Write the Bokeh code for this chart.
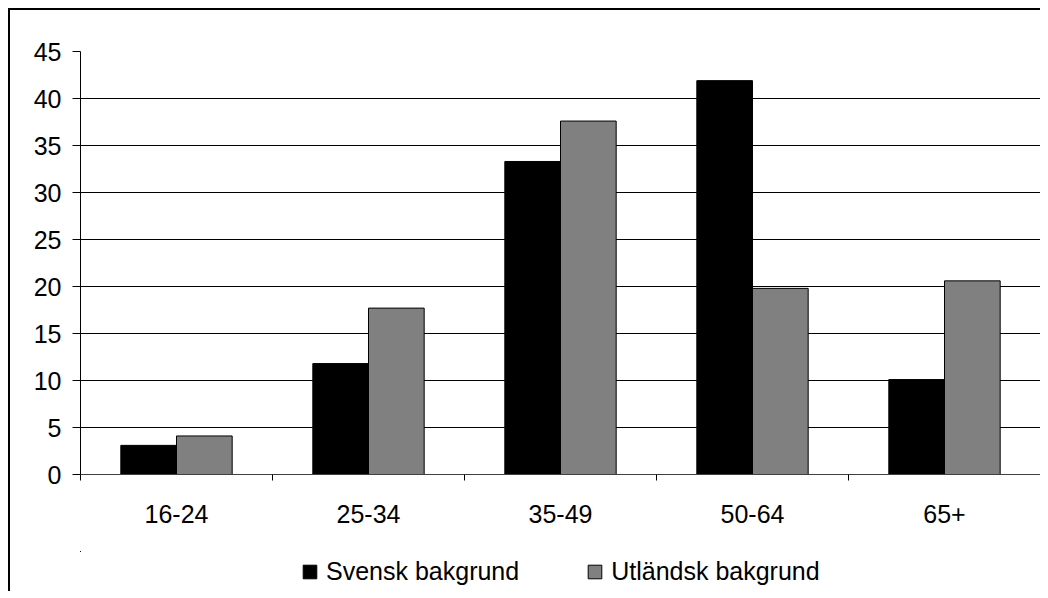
import numpy as np
from bokeh.plotting import figure
from bokeh.layouts import column
from bokeh.models import ColumnDataSource, Range1d, FixedTicker, Legend, LegendItem
from bokeh.embed import file_html
from bokeh.resources import INLINE

categories = ["16-24", "25-34", "35-49", "50-64", "65+"]
svensk = [3.1, 11.8, 33.3, 41.9, 10.1]
utlandsk = [4.1, 17.7, 37.6, 19.8, 20.6]
series_names = ["Svensk bakgrund", "Utländsk bakgrund"]
series_colors = ["black", "#808080"]
y_ticks = [0, 5, 10, 15, 20, 25, 30, 35, 40, 45]

FONT = "Liberation Sans"
FS = "25px"
W = 1030

centers = np.arange(len(categories)) + 0.5
bw = 0.29
src = ColumnDataSource(dict(
    x1=centers - bw / 2, x2=centers + bw / 2, s=svensk, u=utlandsk,
))

p = figure(width=W, height=541, output_backend="svg", toolbar_location=None,
           x_range=Range1d(0, len(categories)), y_range=Range1d(0, 45),
           min_border_left=70, min_border_top=41, min_border_right=0,
           min_border_bottom=77)
p.outline_line_color = None
p.background_fill_color = "white"
p.border_fill_color = "white"

p.vbar(x="x1", top="s", width=bw, bottom=0, source=src,
       fill_color=series_colors[0], line_color="black", line_width=1)
p.vbar(x="x2", top="u", width=bw, bottom=0, source=src,
       fill_color=series_colors[1], line_color="black", line_width=1)

# grid
p.xgrid.grid_line_color = None
p.ygrid.grid_line_color = "black"
p.ygrid.grid_line_width = 1
p.ygrid.ticker = FixedTicker(ticks=y_ticks)

# y axis
ya = p.yaxis[0]
ya.ticker = FixedTicker(ticks=y_ticks)
ya.axis_line_color = "black"
ya.major_tick_line_color = "black"
ya.major_tick_out = 8
ya.major_tick_in = 0
ya.minor_tick_line_color = None
ya.major_label_standoff = 11
ya.major_label_text_font = FONT
ya.major_label_text_font_size = FS
ya.major_label_text_color = "black"

# x axis: labels at centers, tick marks at boundaries
xa = p.xaxis[0]
xa.ticker = FixedTicker(ticks=list(centers),
                        minor_ticks=list(range(len(categories) + 1)))
xa.major_label_overrides = {float(c): lab for c, lab in zip(centers, categories)}
xa.axis_line_color = "#404040"
xa.major_tick_line_color = None
xa.major_tick_out = 0
xa.major_tick_in = 0
xa.minor_tick_line_color = "black"
xa.minor_tick_out = 6
xa.minor_tick_in = 0
xa.major_label_standoff = 24
xa.major_label_text_font = FONT
xa.major_label_text_font_size = FS
xa.major_label_text_color = "black"

# legend strip (same series renderers, ranges chosen so the bars are out of view)
lg = figure(width=W, height=40, output_backend="svg", toolbar_location=None,
            x_range=Range1d(100, 101), y_range=Range1d(-200, -100),
            min_border_left=70, min_border_right=0, min_border_top=0,
            min_border_bottom=0)
lg.axis.visible = False
lg.grid.visible = False
lg.outline_line_color = None
lg.border_fill_color = "white"
lr1 = lg.vbar(x="x1", top="s", width=bw, bottom=0, source=src,
              fill_color=series_colors[0], line_color="black", line_width=1)
lr2 = lg.vbar(x="x2", top="u", width=bw, bottom=0, source=src,
              fill_color=series_colors[1], line_color="black", line_width=1)
legend = Legend(items=[LegendItem(label=series_names[0], renderers=[lr1]),
                       LegendItem(label=series_names[1], renderers=[lr2])],
                orientation="horizontal", location=(221, 5),
                border_line_color=None, background_fill_alpha=0,
                glyph_width=17, glyph_height=17, label_standoff=8,
                spacing=67, padding=0, margin=0,
                label_text_font=FONT, label_text_font_size=FS,
                label_text_color="black")
lg.add_layout(legend, "center")

layout = column(p, lg, spacing=0)
layout.styles = {"border-left": "2px solid black", "border-top": "2px solid black",
                 "margin-left": "8px", "margin-top": "8px",
                 "background-color": "white"}

open("out.html", "w").write(file_html(layout, INLINE))
